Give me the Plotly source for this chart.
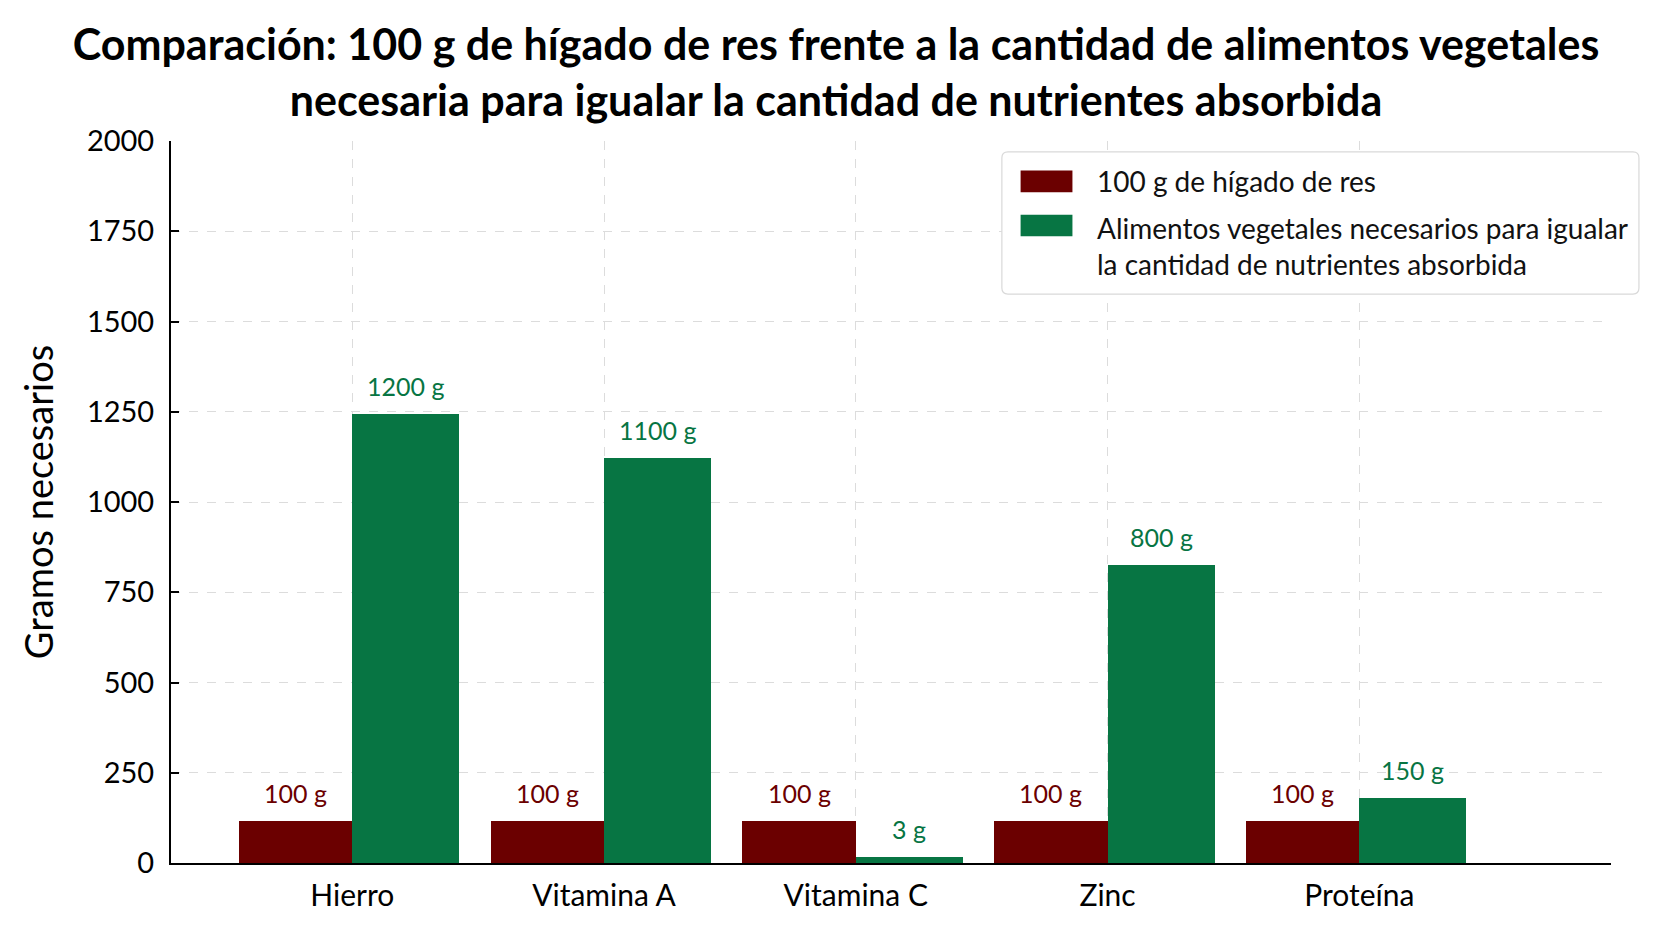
import plotly.graph_objects as go

categories = ["Hierro", "Vitamina A", "Vitamina C", "Zinc", "Proteína"]
higado_values = [115, 115, 115, 115, 115]
vegetal_values = [1243, 1122, 17, 825, 181]
higado_labels = ["100 g", "100 g", "100 g", "100 g", "100 g"]
vegetal_labels = ["1200 g", "1100 g", "3 g", "800 g", "150 g"]
legend_names = ["100 g de hígado de res",
                "Alimentos vegetales necesarios para igualar<br>la cantidad de nutrientes absorbida"]
y_ticks = [0, 250, 500, 750, 1000, 1250, 1500, 1750, 2000]

RED = "#6b0000"
GREEN = "#077543"
FONT = "Lato"
W_RED = 0.45
W_GREEN = 0.425

xpos = list(range(len(categories)))

fig = go.Figure()
fig.add_trace(go.Bar(x=xpos, y=higado_values, width=W_RED, offset=-W_RED,
                     marker=dict(color=RED, line=dict(width=0)), name=legend_names[0],
                     showlegend=False))
fig.add_trace(go.Bar(x=xpos, y=vegetal_values, width=W_GREEN, offset=0,
                     marker=dict(color=GREEN, line=dict(width=0)), name=legend_names[1],
                     showlegend=False))

annotations = []
for i, (v, t) in enumerate(zip(higado_values, higado_labels)):
    annotations.append(dict(x=i - W_RED / 2, y=v, text=t, showarrow=False, yshift=28,
                            font=dict(family=FONT, size=25, color=RED)))
for i, (v, t) in enumerate(zip(vegetal_values, vegetal_labels)):
    annotations.append(dict(x=i + W_GREEN / 2, y=v, text=t, showarrow=False, yshift=28,
                            font=dict(family=FONT, size=25, color=GREEN)))

# manual legend (rounded box)
lx0, lx1, ly0, ly1 = 0.577, 1.0194, 0.788, 0.985
rx, ry = 0.0042, 0.0083
box_path = (f"M{lx0+rx},{ly0} L{lx1-rx},{ly0} Q{lx1},{ly0} {lx1},{ly0+ry} "
            f"L{lx1},{ly1-ry} Q{lx1},{ly1} {lx1-rx},{ly1} L{lx0+rx},{ly1} "
            f"Q{lx0},{ly1} {lx0},{ly1-ry} L{lx0},{ly0+ry} Q{lx0},{ly0} {lx0+rx},{ly0} Z")
shapes = [dict(type="path", xref="paper", yref="paper", path=box_path,
               line=dict(color="#d9d9d9", width=1.2), fillcolor="white", layer="above")]
sw_x0, sw_x1 = 0.59, 0.626
shapes.append(dict(type="rect", xref="paper", yref="paper", x0=sw_x0, x1=sw_x1,
                   y0=0.929, y1=0.959, line=dict(width=0), fillcolor=RED, layer="above"))
shapes.append(dict(type="rect", xref="paper", yref="paper", x0=sw_x0, x1=sw_x1,
                   y0=0.868, y1=0.898, line=dict(width=0), fillcolor=GREEN, layer="above"))
annotations.append(dict(xref="paper", yref="paper", x=0.642, y=0.9445, xanchor="left",
                        yanchor="middle", text=legend_names[0], showarrow=False, align="left",
                        font=dict(family=FONT, size=28, color="#111")))
annotations.append(dict(xref="paper", yref="paper", x=0.642, y=0.855, xanchor="left",
                        yanchor="middle", text=legend_names[1], showarrow=False, align="left",
                        font=dict(family=FONT, size=28, color="#111")))

fig.update_layout(
    width=1672, height=941,
    margin=dict(l=171, r=61, t=141, b=78),
    plot_bgcolor="white", paper_bgcolor="white",
    title=dict(text="<b>Comparación: 100 g de hígado de res frente a la cantidad de alimentos vegetales<br>necesaria para igualar la cantidad de nutrientes absorbida</b>",
               x=0.5, xanchor="center", xref="container", yref="container",
               y=1 - 60 / 941, yanchor="middle",
               font=dict(family=FONT, size=43, color="black")),
    xaxis=dict(range=[-0.72, 5.0], tickmode="array", tickvals=xpos, ticktext=categories,
               showgrid=True, gridcolor="#dcdcdc", griddash="dash", gridwidth=1,
               showline=True, linecolor="black", linewidth=2, ticks="",
               ticklabelstandoff=5,
               tickfont=dict(family=FONT, size=30, color="black"), zeroline=False),
    yaxis=dict(range=[0, 2000], tickmode="array", tickvals=y_ticks,
               showgrid=True, gridcolor="#dcdcdc", griddash="dash", gridwidth=1,
               showline=True, linecolor="black", linewidth=2, ticks="inside", ticklen=8,
               tickcolor="black", tickwidth=1.5, ticklabelstandoff=9,
               tickfont=dict(family=FONT, size=29, color="black"), zeroline=False,
               title=dict(text="Gramos necesarios", standoff=22,
                          font=dict(family=FONT, size=38, color="black"))),
    annotations=annotations, shapes=shapes, bargap=0,
)
fig.write_html("out.html")
